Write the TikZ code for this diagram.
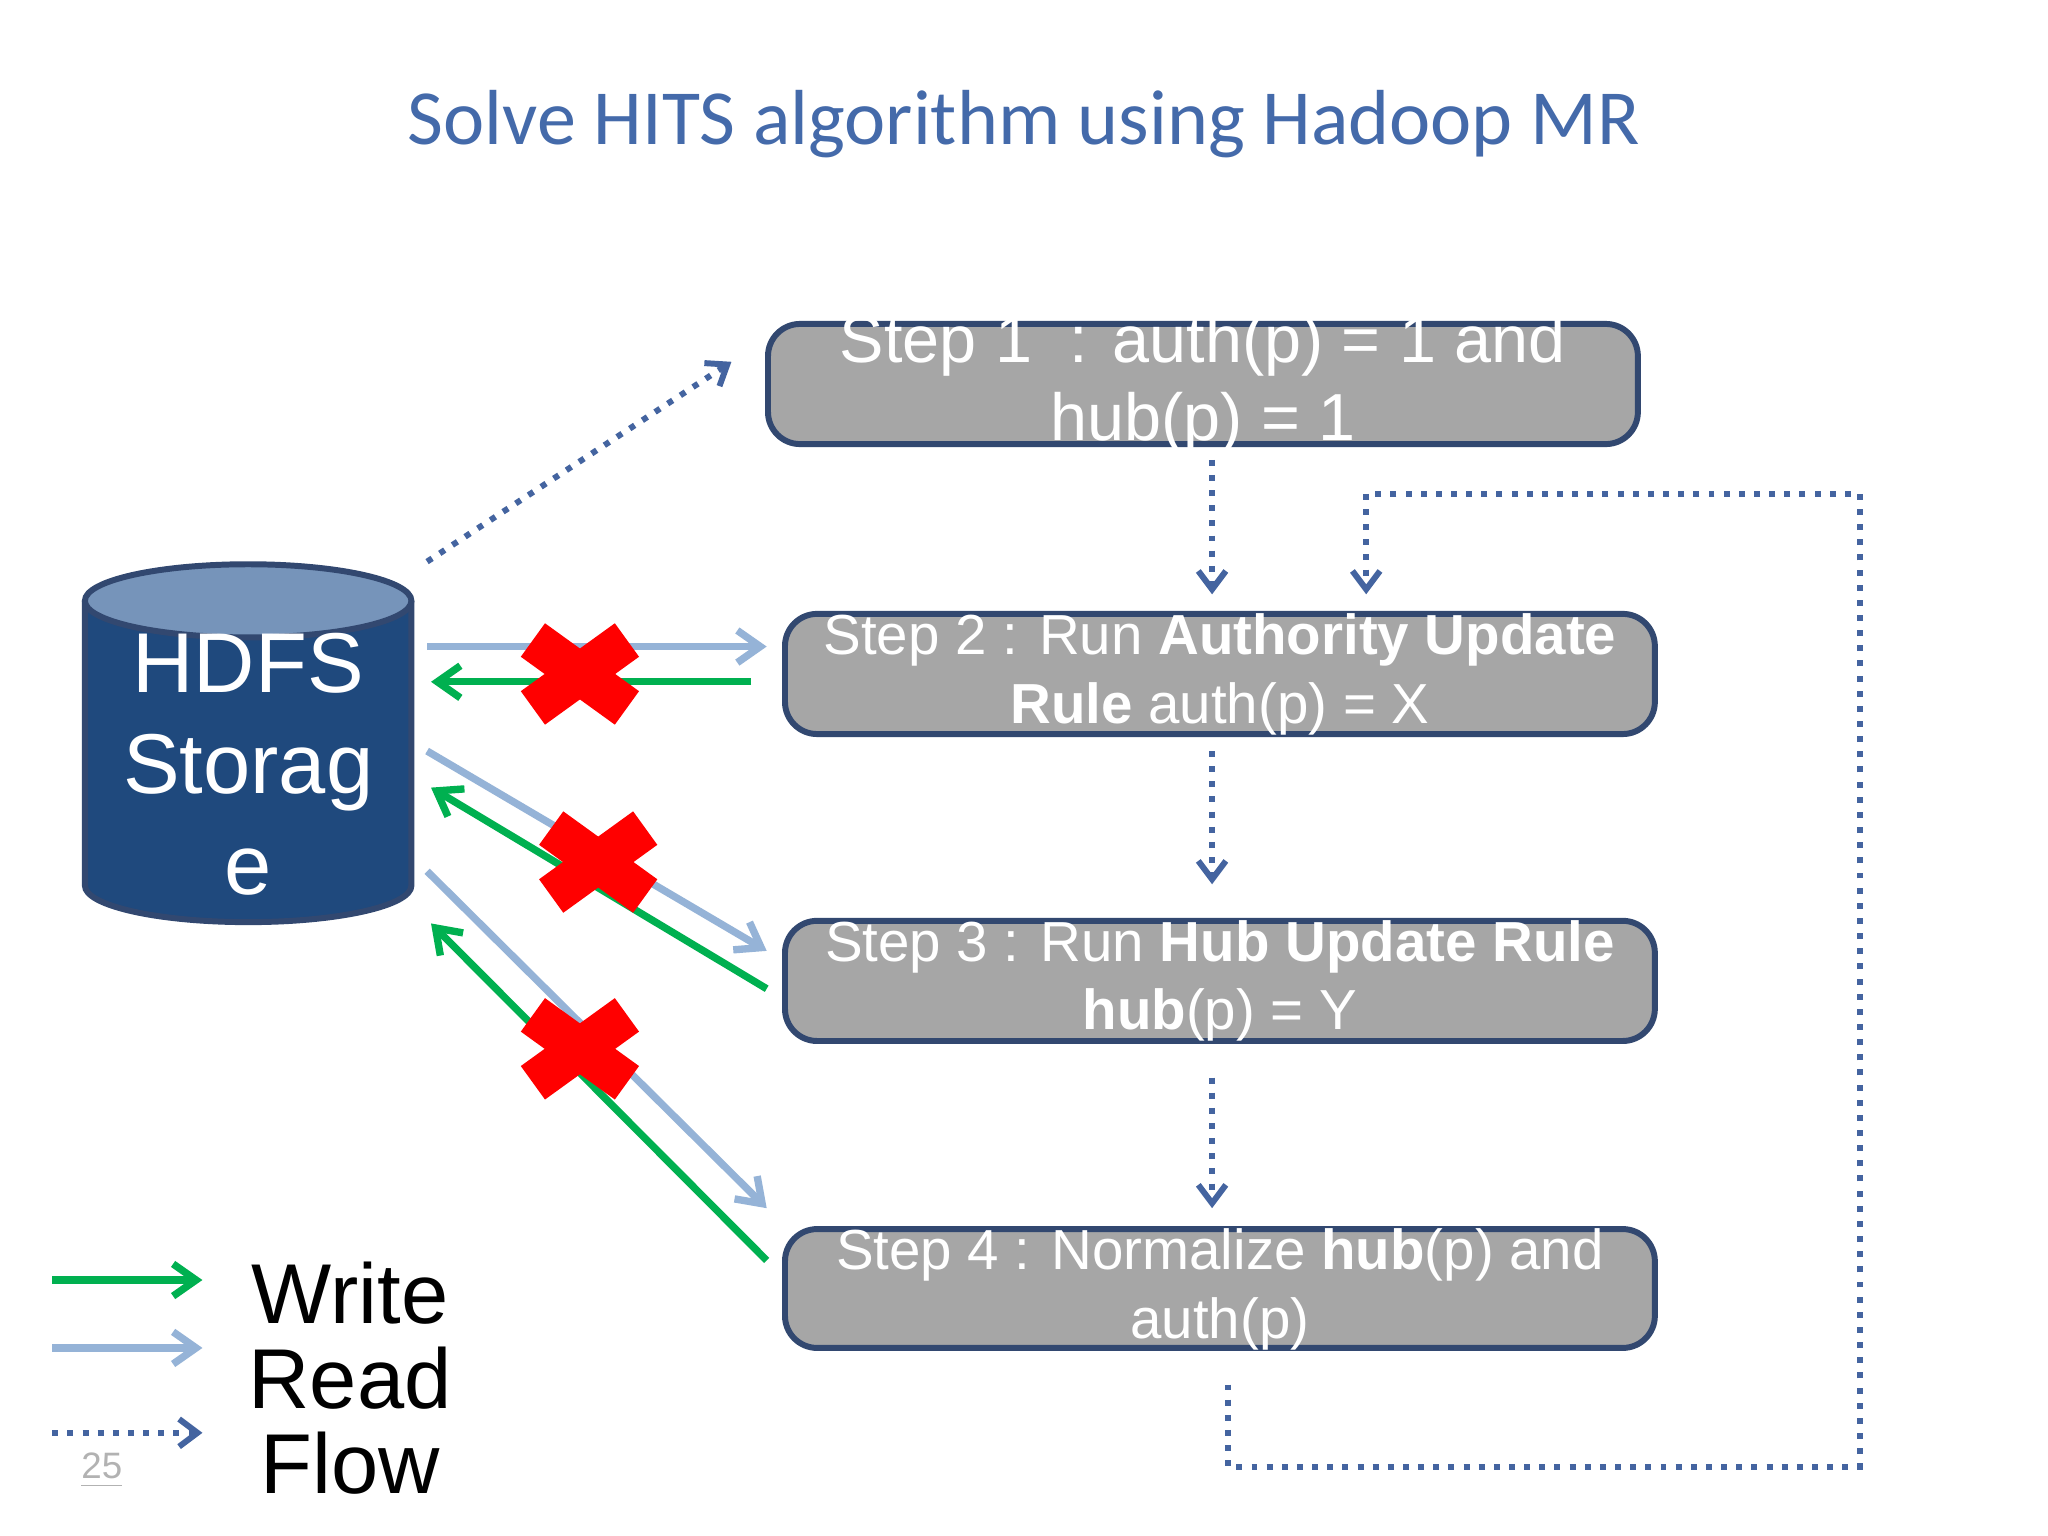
\documentclass[tikz,border=0pt]{standalone}
\usepackage{fontspec}
\setmainfont{Liberation Sans}
\newfontfamily\titlefont{Carlito}
\usetikzlibrary{arrows.meta}
\definecolor{ttl}{RGB}{68,106,170}
\definecolor{boxfill}{RGB}{166,166,166}
\definecolor{boxline}{RGB}{50,72,112}
\definecolor{cyl}{RGB}{31,73,125}
\definecolor{cyltop}{RGB}{118,148,186}
\definecolor{rd}{RGB}{149,179,215}
\definecolor{wr}{RGB}{0,176,80}
\definecolor{fl}{RGB}{68,100,160}
\tikzset{
 stepbox/.style={draw=boxline,line width=1.3pt,fill=boxfill,rounded corners=7pt},
 readarr/.style={rd,line width=1.6pt,-{Straight Barb[length=5pt,width=7pt]}},
 writearr/.style={wr,line width=1.6pt,-{Straight Barb[length=5pt,width=7pt]}},
 flowarr/.style={fl,line width=1.3pt,dotted,-{Straight Barb[length=4pt,width=6pt]}},
 xmark/.style={red,line width=9pt},
 leg/.style={font=\fontsize{18.5}{20}\selectfont,anchor=center}
}
\begin{document}
\begin{tikzpicture}[x=0.1mm,y=-0.1mm]
\useasboundingbox[fill=white] (0,0) rectangle (1568,1176);
\node[text=ttl,font=\titlefont\fontsize{17}{20}\selectfont] (title) at (784,95) {Solve HITS algorithm using Hadoop MR};
% steps
\draw[stepbox] (588,248) rectangle (1254,340);
\node[text=white,align=center,font=\fontsize{14.5}{17}\selectfont] (s1) at (921,294) {Step 1\ \ : auth(p) = 1 and\\hub(p) = 1};
\draw[stepbox] (601,470) rectangle (1267,562);
\node[text=white,align=center,font=\fontsize{12.3}{15}\selectfont] (s2) at (934,516) {Step 2 : Run \textbf{Authority Update}\\\textbf{Rule} auth(p) = X};
\draw[stepbox] (601,705) rectangle (1267,797);
\node[text=white,align=center,font=\fontsize{12.3}{15}\selectfont] (s3) at (934,751) {Step 3 : Run \textbf{Hub Update Rule}\\\textbf{hub}(p) = Y};
\draw[stepbox] (601,941) rectangle (1267,1032);
\node[text=white,align=center,font=\fontsize{12.3}{15}\selectfont] (s4) at (934,987) {Step 4 : Normalize \textbf{hub}(p) and\\auth(p)};
% cylinder
\draw[boxline,line width=1.3pt,fill=cyl] (65,460) -- (65,678) arc[start angle=180,end angle=0,x radius=125,y radius=28] -- (315,460);
\draw[boxline,line width=1.3pt,fill=cyltop] (190,460) ellipse[x radius=125,y radius=28];
\node[text=white,align=center,font=\fontsize{18.5}{22}\selectfont] (hdfs) at (190,585) {HDFS\\Storag\\e};
% coordinates
\coordinate (f0) at (327,430); \coordinate (f1) at (560,277);
\coordinate (a1) at (928,352); \coordinate (a2) at (928,455);
\coordinate (b1) at (928,575); \coordinate (b2) at (928,677);
\coordinate (c1) at (928,825); \coordinate (c2) at (928,925);
\coordinate (l0) at (940,1060); \coordinate (l1) at (940,1123); \coordinate (l2) at (1424,1123);
\coordinate (l3) at (1424,378); \coordinate (l4) at (1046,378); \coordinate (l5) at (1046,455);
\draw[flowarr] (f0) -- (f1);
\draw[flowarr] (a1) -- (a2);
\draw[flowarr] (b1) -- (b2);
\draw[flowarr] (c1) -- (c2);
\draw[flowarr] (l0) -- (l1) -- (l2) -- (l3) -- (l4) -- (l5);
% read/write
\coordinate (r1a) at (327,495); \coordinate (r1b) at (587,495);
\coordinate (r2a) at (327,575); \coordinate (r2b) at (587,728);
\coordinate (r3a) at (327,667); \coordinate (r3b) at (587,925);
\coordinate (w1a) at (575,522); \coordinate (w1b) at (330,522);
\coordinate (w2a) at (587,757); \coordinate (w2b) at (330,603);
\coordinate (w3a) at (587,965); \coordinate (w3b) at (330,707);
\draw[readarr] (r1a) -- (r1b);
\draw[readarr] (r2a) -- (r2b);
\draw[readarr] (r3a) -- (r3b);
\draw[writearr] (w1a) -- (w1b);
\draw[writearr] (w2a) -- (w2b);
\draw[writearr] (w3a) -- (w3b);
% X marks
\foreach \x/\y in {444/516,458/660,444/803}{
 \draw[xmark] (\x-36,\y-26) -- (\x+36,\y+26);
 \draw[xmark] (\x-36,\y+26) -- (\x+36,\y-26);
}
% legend
\coordinate (g1) at (40,980); \coordinate (g2) at (155,980);
\coordinate (h1) at (40,1032); \coordinate (h2) at (155,1032);
\coordinate (k1) at (40,1097); \coordinate (k2) at (155,1097);
\draw[writearr] (g1) -- (g2);
\draw[readarr] (h1) -- (h2);
\draw[flowarr] (k1) -- (k2);
\node[leg] (lw) at (268,990) {Write};
\node[leg] (lr) at (268,1055) {Read};
\node[leg] (lf) at (268,1120) {Flow};
\node[text=gray!60,font=\fontsize{8}{9}\selectfont] (pg) at (78,1126) {\underline{25}};
\end{tikzpicture}
\end{document}
